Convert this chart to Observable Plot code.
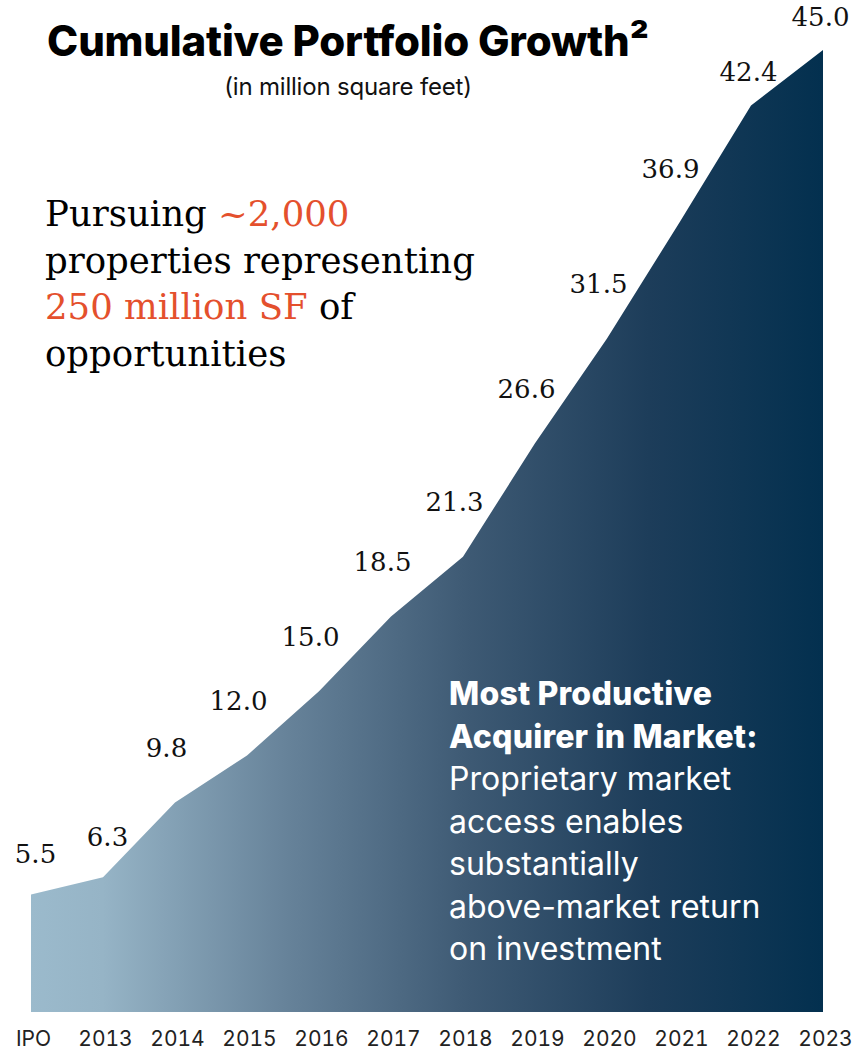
<!DOCTYPE html>
<html>
<head>
<meta charset="utf-8">
<script src="https://cdn.jsdelivr.net/npm/d3@7"></script>
<script src="https://cdn.jsdelivr.net/npm/@observablehq/plot@0.6"></script>
<style>
  html, body { margin: 0; padding: 0; background: #fff; }
  #wrap { position: relative; width: 865px; height: 1050px; overflow: hidden; }
  #wrap svg { position: absolute; left: 0; top: 0; }
  .ov { position: absolute; white-space: nowrap; }
  #title { left: 0; width: 696px; text-align: center; top: 15px; font-family: Inter, sans-serif; font-weight: 800; font-size: 42px; letter-spacing: -0.2px; color: #000; }
  #subtitle { left: 0; width: 696px; text-align: center; top: 72px; font-family: Inter, sans-serif; font-size: 24px; color: #111; letter-spacing: -0.2px; }
  #pursue { left: 45px; top: 191px; font-family: "DejaVu Serif", serif; font-size: 35.5px; line-height: 46.5px; color: #000; }
  #pursue .o { color: #e4502d; }
  #note { left: 449px; top: 673px; font-family: Inter, sans-serif; font-size: 32px; line-height: 42.5px; color: #fff; }
  #note b { font-weight: 800; letter-spacing: 0.2px; }
</style>
</head>
<body>
<div id="wrap"></div>
<script>
const years = ["IPO", "2013", "2014", "2015", "2016", "2017", "2018", "2019", "2020", "2021", "2022", "2023"];
const values = [5.5, 6.3, 9.8, 12.0, 15.0, 18.5, 21.3, 26.6, 31.5, 36.9, 42.4, 45.0];

const data = years.map((y, i) => ({i, year: y, value: values[i]}));
const n = years.length;
const labelStyle = {x: "i", y: "value", text: d => d.value.toFixed(1), fontSize: 26, fontFamily: "DejaVu Serif", fill: "#111"};

const plot = Plot.plot({
  width: 865,
  height: 1050,
  marginLeft: 31,
  marginRight: 42,
  marginTop: 50,
  marginBottom: 38,
  style: {background: "transparent", overflow: "visible"},
  x: {domain: [0, n - 1], axis: null},
  y: {domain: [0, 45], axis: null},
  marks: [
    Plot.areaY(data, {x: "i", y: "value", fill: "url(#portfolioGrad)", curve: "linear"}),
    Plot.text(data.filter(d => d.i < 2), {...labelStyle, dx: 4, dy: -40}),
    Plot.text(data.filter(d => d.i >= 2 && d.i < n - 2), {...labelStyle, dx: -9, dy: -54}),
    Plot.text(data.filter(d => d.i >= n - 2), {...labelStyle, dx: -3, dy: -33}),
    Plot.axisX({ticks: d3.range(n), tickFormat: i => years[i], tickSize: 0, tickPadding: 19, label: null,
      fontSize: 21, fontFamily: "Inter", fill: "#222", dx: 2})
  ]
});

const xs = plot.scale("x");
const x1 = xs.apply(0), x2 = xs.apply(n - 1);
const svg = d3.select(plot);
const defs = svg.insert("defs", ":first-child");
const g = defs.append("linearGradient")
  .attr("id", "portfolioGrad")
  .attr("gradientUnits", "userSpaceOnUse")
  .attr("x1", x1).attr("x2", x2).attr("y1", 0).attr("y2", 0);
[[0, "#9bbacc"], [0.09, "#96b4c6"], [0.32, "#67839a"], [0.55, "#3e5a74"], [0.78, "#1d3d5a"], [1, "#03304f"]]
  .forEach(([o, c]) => g.append("stop").attr("offset", o).attr("stop-color", c));

const wrap = document.getElementById("wrap");
wrap.appendChild(plot);
wrap.insertAdjacentHTML("beforeend", `
  <div class="ov" id="title">Cumulative Portfolio Growth²</div>
  <div class="ov" id="subtitle">(in million square feet)</div>
  <div class="ov" id="pursue">Pursuing <span class="o">~2,000</span><br>properties representing<br><span class="o">250 million SF</span> of<br>opportunities</div>
  <div class="ov" id="note"><b>Most Productive<br>Acquirer in Market:</b><br>Proprietary market<br>access enables<br>substantially<br>above-market return<br>on investment</div>
`);
</script>
</body>
</html>
